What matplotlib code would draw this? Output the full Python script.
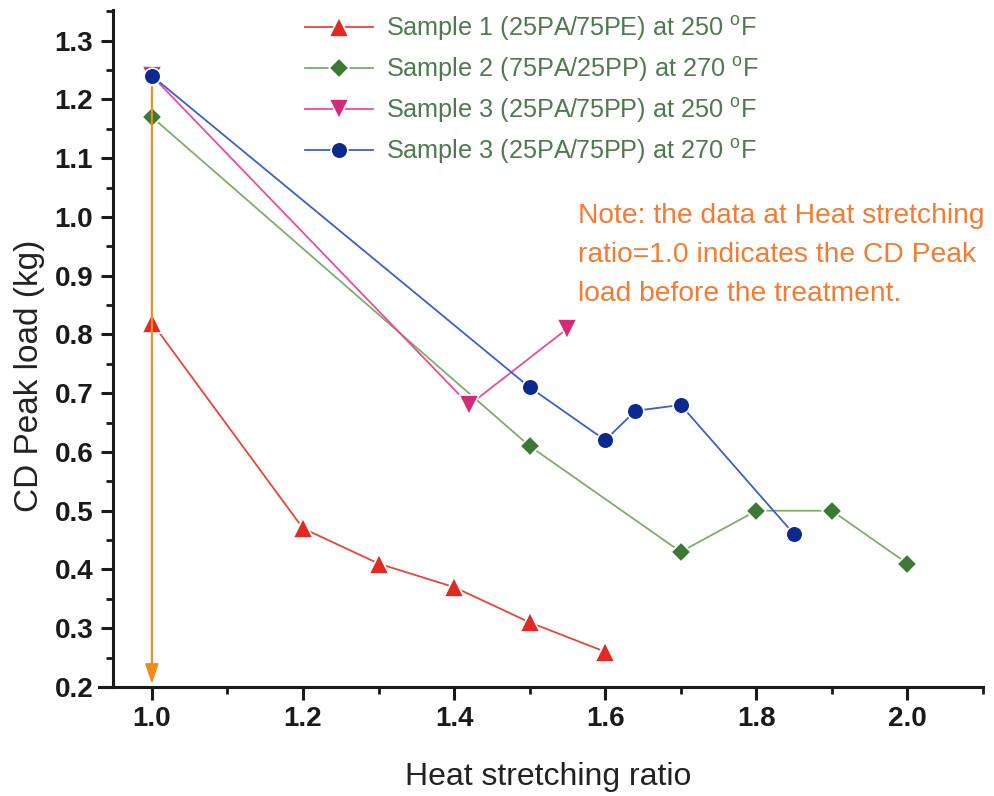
import numpy as np
import matplotlib.pyplot as plt
from matplotlib.ticker import MultipleLocator

plt.rcParams['font.family'] = ['Liberation Sans', 'DejaVu Sans']
plt.rcParams['mathtext.fontset'] = 'custom'
plt.rcParams['mathtext.rm'] = 'Liberation Sans'
plt.rcParams['mathtext.it'] = 'Liberation Sans:italic'

# data
s1_x = [1.0, 1.2, 1.3, 1.4, 1.5, 1.6]
s1_y = [0.82, 0.47, 0.41, 0.37, 0.31, 0.26]
s2_x = [1.0, 1.5, 1.7, 1.8, 1.9, 2.0]
s2_y = [1.17, 0.61, 0.43, 0.50, 0.50, 0.41]
s3a_x = [1.0, 1.42, 1.55]
s3a_y = [1.24, 0.68, 0.81]
s3b_x = [1.0, 1.5, 1.6, 1.64, 1.70, 1.85]
s3b_y = [1.24, 0.71, 0.62, 0.67, 0.68, 0.46]

labels = ['Sample 1 (25PA/75PE) at 250 $^{\\mathrm{o}}$F',
          'Sample 2 (75PA/25PP) at 270 $^{\\mathrm{o}}$F',
          'Sample 3 (25PA/75PP) at 250 $^{\\mathrm{o}}$F',
          'Sample 3 (25PA/75PP) at 270 $^{\\mathrm{o}}$F']

note = 'Note: the data at Heat stretching\nratio=1.0 indicates the CD Peak\nload before the treatment.'

fig = plt.figure(figsize=(9.94, 7.96), dpi=100)
ax = fig.add_axes([0.0996, 0.1369, 0.8893, 0.8505])

kw = dict(lw=1.3, mec='white', mew=1.2, zorder=3)
ax.plot(s1_x, s1_y, color='#e8443c', marker='^', ms=14, mfc='#e02a22', label=labels[0], **kw)
ax.plot(s2_x, s2_y, color='#7fae68', marker='D', ms=10, mfc='#3c7a34', label=labels[1], **kw)
ax.annotate('', xy=(1.0, 0.205), xytext=(1.0, 1.24),
            arrowprops=dict(arrowstyle='-|>,head_length=0.6,head_width=0.2',
                            color='#f28a1e', lw=1.5, shrinkA=0, shrinkB=0,
                            mutation_scale=20),
            zorder=4)
kw['zorder'] = 5
ax.plot(s3a_x, s3a_y, color='#ea4c9c', marker='v', ms=14, mfc='#d42a78', label=labels[2], **kw)
ax.plot(s3b_x, s3b_y, color='#3d5fc6', marker='o', ms=12, mfc='#0c2a8e', label=labels[3], **kw)

ax.set_xlim(0.93, 2.1)
ax.set_ylim(0.2, 1.352)
ax.spines['left'].set_position(('data', 0.948))
ax.spines['top'].set_visible(False)
ax.spines['right'].set_visible(False)
for s in ['left', 'bottom']:
    ax.spines[s].set_linewidth(2.2)
    ax.spines[s].set_color('#1a1a1a')

ax.set_xticks([1.0, 1.2, 1.4, 1.6, 1.8, 2.0])
ax.set_yticks(np.round(np.arange(0.2, 1.31, 0.1), 1))
ax.xaxis.set_minor_locator(MultipleLocator(0.1))
ax.yaxis.set_minor_locator(MultipleLocator(0.05))
ax.tick_params(which='major', length=9, width=2.2, color='#1a1a1a', pad=5,
               labelsize=20, labelcolor='#1a1a1a')
ax.tick_params(which='minor', length=5, width=2.0, color='#1a1a1a')
for t in ax.get_xticklabels() + ax.get_yticklabels():
    t.set_fontweight('bold')

fig.text(30 / 994, 1 - 376 / 796, 'CD Peak load (kg)', rotation=90,
         ha='center', va='center', fontsize=24, color='#222222')
fig.text(548 / 994, 1 - 785 / 796, 'Heat stretching ratio',
         ha='center', va='baseline', fontsize=23, color='#222222')

fig.text(578 / 994, 1 - 203 / 796, note, ha='left', va='top',
         fontsize=20.3, color='#f47b32', linespacing=1.66)

leg = ax.legend(loc='upper left', bbox_to_anchor=(0.233, 0.994), frameon=False,
                fontsize=18.2, handlelength=2.7, handletextpad=0.5,
                labelspacing=0.48, borderpad=0, borderaxespad=0, numpoints=1)
for t in leg.get_texts():
    t.set_color('#4f7a4f')

fig.savefig('out.png', dpi=100)
